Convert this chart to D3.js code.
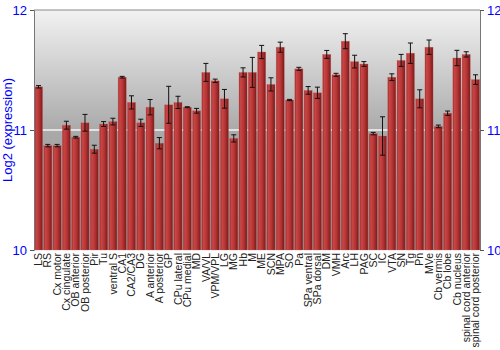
<!DOCTYPE html>
<html>
<head>
<meta charset="utf-8">
<script src="https://cdn.jsdelivr.net/npm/d3@7"></script>
<style>
  body { margin: 0; background: #fff; }
  svg text { font-family: "Liberation Sans", Arial, sans-serif; }
</style>
</head>
<body>
<div class="canvas"></div>
<script>
const svgWidth = 500;
const svgHeight = 350;
const margin = { top: 10, right: 20, bottom: 100, left: 34 };
const graphWidth = svgWidth - margin.left - margin.right;
const graphHeight = svgHeight - margin.top - margin.bottom;

// Data:
const regions = ['LS', 'RS', 'Cx motor', 'Cx cingulate', 'OB anterior', 'OB posterior', 'Pir', 'Tu',
    'ventral S', 'CA1', 'CA2/CA3', 'DG', 'A anterior', 'A posterior', 'GP', 'CPu lateral', 'CPu medial',
    'MD', 'VA/VL', 'VPM/VPL', 'LG', 'MG', 'Hb', 'M', 'ME', 'SCN', 'MPA', 'SO', 'Pa', 'SPa ventral',
    'SPa dorsal', 'DM', 'VMH', 'Arc', 'LH', 'PAG', 'SC', 'IC', 'VTA', 'SN', 'Tg', 'Pn', 'MVe',
    'Cb vermis', 'Cb lobe', 'Cb nucleus', 'spinal cord anterior', 'spinal cord posterior'];
const expression = [11.36, 10.87, 10.87, 11.04, 10.94, 11.06, 10.84, 11.05,
    11.07, 11.44, 11.23, 11.06, 11.19, 10.89, 11.21, 11.23, 11.19,
    11.16, 11.48, 11.41, 11.26, 10.93, 11.48, 11.48, 11.65, 11.38, 11.69, 11.25, 11.51, 11.33,
    11.31, 11.63, 11.46, 11.74, 11.57, 11.55, 10.97, 10.95, 11.44, 11.58, 11.64, 11.26, 11.69,
    11.03, 11.14, 11.60, 11.63, 11.42];
const errors = [0.01, 0.01, 0.01, 0.033, 0.007, 0.07, 0.033, 0.02,
    0.028, 0.007, 0.055, 0.03, 0.064, 0.047, 0.154, 0.051, 0.004,
    0.02, 0.075, 0.014, 0.078, 0.03, 0.038, 0.125, 0.055, 0.055, 0.042, 0.005, 0.0125, 0.032,
    0.047, 0.033, 0.0125, 0.0625, 0.053, 0.02, 0.01, 0.16, 0.028, 0.05, 0.085, 0.075, 0.06,
    0.011, 0.018, 0.064, 0.022, 0.04];
const yTicks = [10, 11, 12];

const data = regions.map((r, i) => ({ region: r, value: expression[i], err: errors[i] }));

const svg = d3.select('.canvas')
    .append('svg')
        .attr('width', svgWidth)
        .attr('height', svgHeight);

const defs = svg.append('defs');
const bg = defs.append('linearGradient')
    .attr('id', 'bg')
    .attr('x1', 0).attr('y1', 0).attr('x2', 0).attr('y2', 1);
bg.append('stop').attr('offset', '0%').attr('stop-color', '#f2f2f2');
bg.append('stop').attr('offset', '50%').attr('stop-color', '#aaaaaa');
bg.append('stop').attr('offset', '100%').attr('stop-color', '#8c8c8c');

const barGrad = defs.append('linearGradient')
    .attr('id', 'bar')
    .attr('x1', 0).attr('y1', 0).attr('x2', 1).attr('y2', 0);
barGrad.append('stop').attr('offset', '0%').attr('stop-color', '#9e2a2a');
barGrad.append('stop').attr('offset', '20%').attr('stop-color', '#c84646');
barGrad.append('stop').attr('offset', '55%').attr('stop-color', '#b83535');
barGrad.append('stop').attr('offset', '100%').attr('stop-color', '#7a1a1a');

const g = svg.append('g')
    .attr('transform', `translate(${margin.left}, ${margin.top})`);

// Scale setup:
const x = d3.scaleBand()
    .domain(regions)
    .range([0, graphWidth])
    .paddingInner(0.13)
    .paddingOuter(0.05);
const y = d3.scaleLinear().domain([10, 12]).range([graphHeight, 0]);

// Background:
g.append('rect')
    .attr('width', graphWidth)
    .attr('height', graphHeight)
    .attr('fill', 'url(#bg)');

g.append('line')
    .attr('x1', 0).attr('x2', graphWidth)
    .attr('y1', y(11)).attr('y2', y(11))
    .attr('stroke', '#f4f4f4')
    .attr('stroke-width', 1.5);

// Bars:
g.selectAll('rect.bar')
    .data(data)
    .enter().append('rect')
        .attr('class', 'bar')
        .attr('x', d => x(d.region))
        .attr('y', d => y(d.value))
        .attr('width', x.bandwidth())
        .attr('height', d => graphHeight - y(d.value))
        .attr('fill', 'url(#bar)')
        .attr('stroke', '#d06060')
        .attr('stroke-opacity', 0.5)
        .attr('stroke-width', 0.6);

// Error bars:
const errG = g.selectAll('g.err')
    .data(data)
    .enter().append('g')
        .attr('class', 'err')
        .attr('transform', d => `translate(${x(d.region) + x.bandwidth() / 2}, 0)`);

errG.append('line')
    .attr('y1', d => y(d.value - d.err))
    .attr('y2', d => y(d.value + d.err))
    .attr('stroke', '#111')
    .attr('stroke-width', 1);
errG.selectAll('line.cap')
    .data(d => [d.value - d.err, d.value + d.err])
    .enter().append('line')
        .attr('class', 'cap')
        .attr('x1', -2.5).attr('x2', 2.5)
        .attr('y1', v => y(v)).attr('y2', v => y(v))
        .attr('stroke', '#111')
        .attr('stroke-width', 1);

// Frame top:
g.append('line')
    .attr('x1', 0).attr('x2', graphWidth)
    .attr('y1', 0).attr('y2', 0)
    .attr('stroke', '#888');

// Axes:
const yAxisLeft = d3.axisLeft(y).tickValues(yTicks).tickFormat(d3.format('d')).tickSize(4);
const yAxisRight = d3.axisRight(y).tickValues(yTicks).tickFormat(d3.format('d')).tickSize(4);

const leftG = g.append('g').call(yAxisLeft);
const rightG = g.append('g').attr('transform', `translate(${graphWidth}, 0)`).call(yAxisRight);

[leftG, rightG].forEach(ax => {
    ax.select('.domain').attr('stroke', '#777');
    ax.selectAll('.tick line').attr('stroke', '#555');
    ax.selectAll('.tick text')
        .attr('fill', '#0000ff')
        .style('font-size', '13px');
});

// X labels:
const xAxis = d3.axisBottom(x).tickSize(0);
const xAxisGroup = g.append('g')
    .attr('transform', `translate(0, ${graphHeight})`)
    .call(xAxis);
xAxisGroup.select('.domain').remove();
xAxisGroup.selectAll('.tick text')
    .attr('transform', 'rotate(-90)')
    .attr('x', -3)
    .attr('y', 0)
    .attr('dy', '0.35em')
    .attr('text-anchor', 'end')
    .attr('fill', '#222')
    .style('font-size', '10.5px');

// Y title:
svg.append('text')
    .attr('transform', `translate(12, ${margin.top + graphHeight / 2}) rotate(-90)`)
    .attr('text-anchor', 'middle')
    .attr('fill', '#0000ff')
    .style('font-size', '13px')
    .text('Log2 (expression)');
</script>
</body>
</html>
